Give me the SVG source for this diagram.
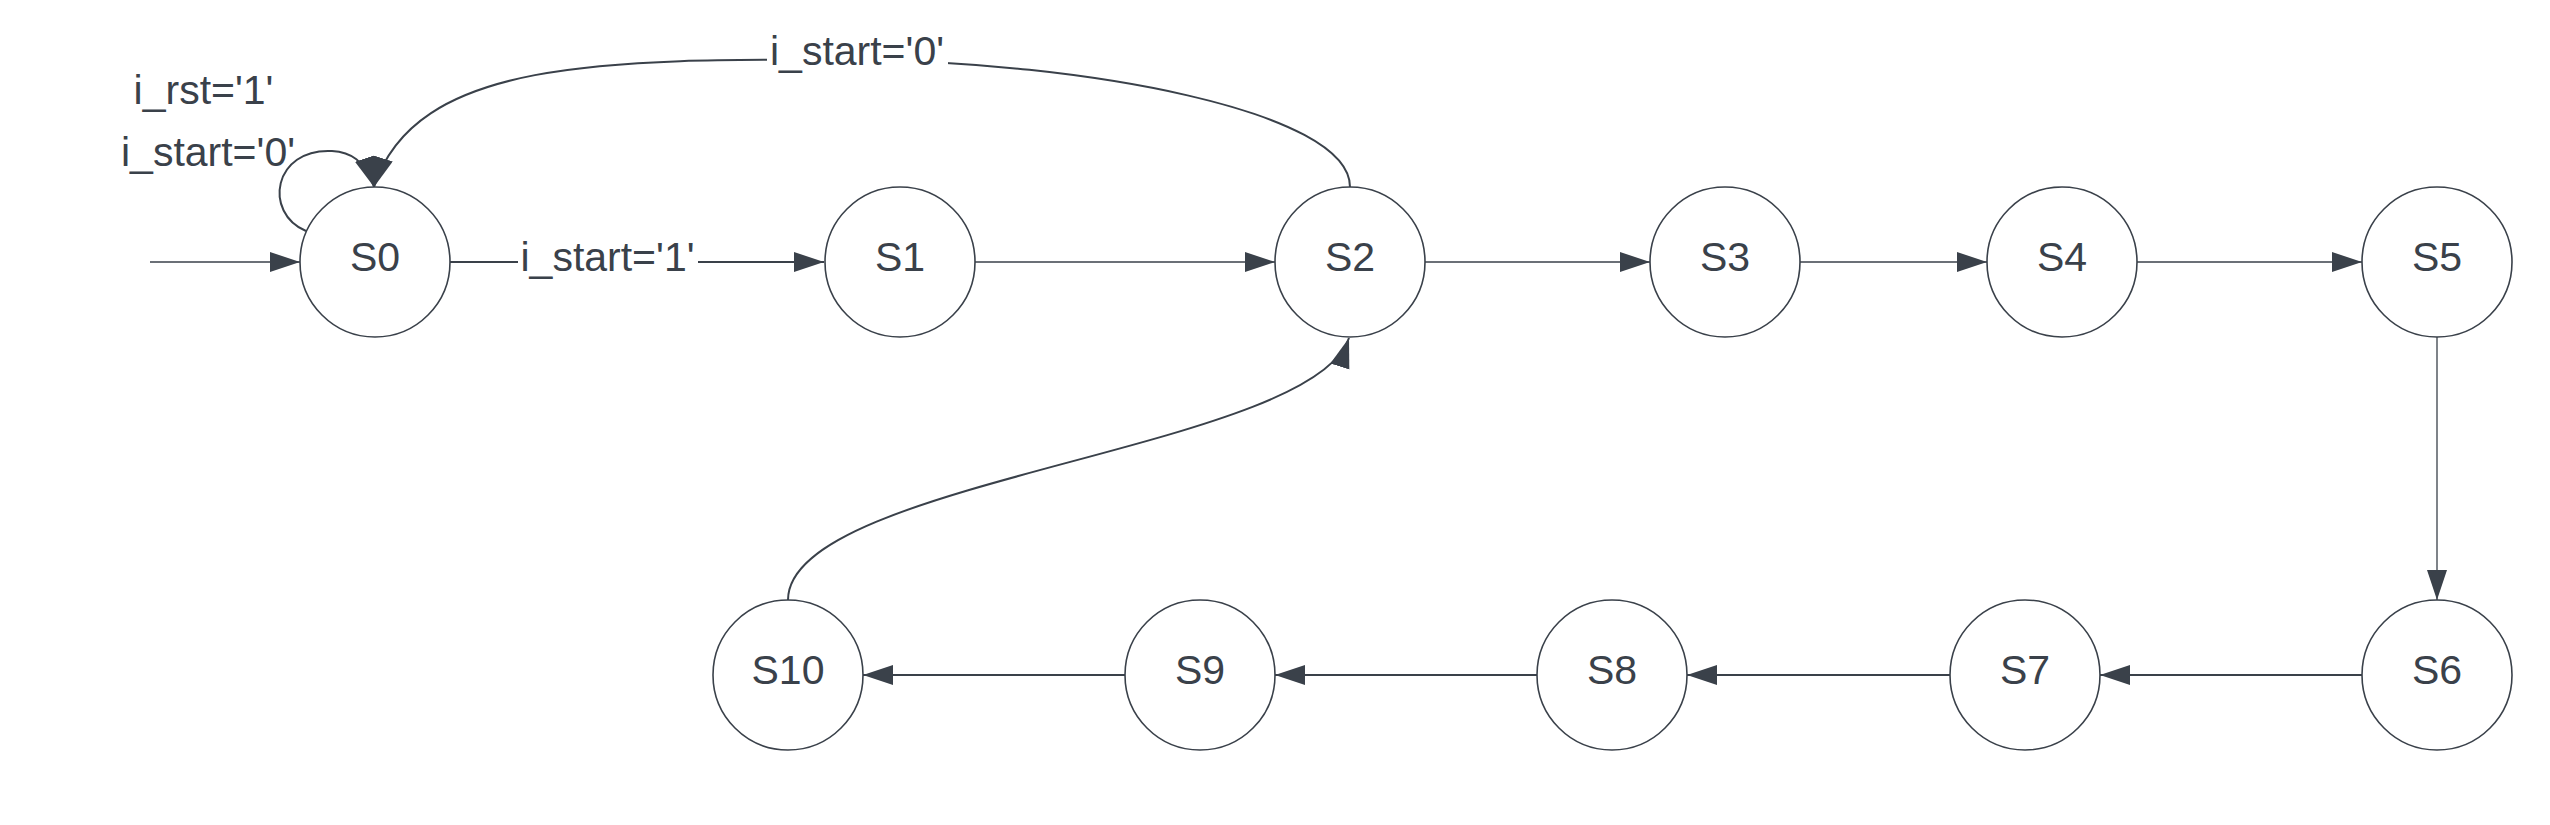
<svg xmlns="http://www.w3.org/2000/svg" width="2550" height="825" viewBox="0 0 2550 825">
  <style>
    .node circle { fill: #ffffff; stroke: #3a414a; stroke-width: 1.6; }
    text { font-family: "Liberation Sans", Arial, sans-serif; font-size: 41px; fill: #3a414a; text-anchor: middle; }
    .thin { fill: none; stroke: #3a414a; stroke-width: 1.3; marker-end: url(#arrow); }
    .thick { fill: none; stroke: #3a414a; stroke-width: 2; marker-end: url(#arrow); }
    .lblbg { fill: #ffffff; }
  </style>
  <defs>
    <marker id="arrow" markerUnits="userSpaceOnUse" markerWidth="31" markerHeight="21" refX="30" refY="10" orient="auto">
      <path d="M0,0 L30,10 L0,20 Z" fill="#3a414a"/>
    </marker>
  </defs>
  <rect width="2550" height="825" fill="#ffffff"/>

  <g id="connectors">
    <path class="thin" d="M150,262 L300,262"/>
    <path class="thick" d="M450,262 L824,262"/>
    <path class="thin" d="M975,262 L1275,262"/>
    <path class="thin" d="M1425,262 L1650,262"/>
    <path class="thin" d="M1800,262 L1987,262"/>
    <path class="thin" d="M2137,262 L2362,262"/>
    <path class="thin" d="M2437,337 L2437,600"/>
    <path class="thick" d="M2362,675 L2100,675"/>
    <path class="thick" d="M1950,675 L1687,675"/>
    <path class="thick" d="M1537,675 L1275,675"/>
    <path class="thick" d="M1125,675 L863,675"/>
    <path class="thick" d="M788,600 C788,480 1313,450 1349,338"/>
    <path class="thick" d="M1350,187 C1350,110 1080,62 860,60 C600,58 415,60 374,187"/>
    <path class="thick" d="M306,231 C263,213 273,148 332,151 C350,152 365,160 374,187"/>
  </g>

  <g id="labels">
    <rect class="lblbg" x="518" y="235" width="180" height="47"/>
    <text x="607.5" y="271">i_start='1'</text>
    <rect class="lblbg" x="767" y="29" width="181" height="47"/>
    <text x="857" y="65">i_start='0'</text>
    <text x="203.5" y="104">i_rst='1'</text>
    <text x="208" y="166">i_start='0'</text>
  </g>

  <g id="S0" class="node"><circle cx="375" cy="262" r="75"/><text x="375" y="271">S0</text></g>
  <g id="S1" class="node"><circle cx="900" cy="262" r="75"/><text x="900" y="271">S1</text></g>
  <g id="S2" class="node"><circle cx="1350" cy="262" r="75"/><text x="1350" y="271">S2</text></g>
  <g id="S3" class="node"><circle cx="1725" cy="262" r="75"/><text x="1725" y="271">S3</text></g>
  <g id="S4" class="node"><circle cx="2062" cy="262" r="75"/><text x="2062" y="271">S4</text></g>
  <g id="S5" class="node"><circle cx="2437" cy="262" r="75"/><text x="2437" y="271">S5</text></g>
  <g id="S6" class="node"><circle cx="2437" cy="675" r="75"/><text x="2437" y="684">S6</text></g>
  <g id="S7" class="node"><circle cx="2025" cy="675" r="75"/><text x="2025" y="684">S7</text></g>
  <g id="S8" class="node"><circle cx="1612" cy="675" r="75"/><text x="1612" y="684">S8</text></g>
  <g id="S9" class="node"><circle cx="1200" cy="675" r="75"/><text x="1200" y="684">S9</text></g>
  <g id="S10" class="node"><circle cx="788" cy="675" r="75"/><text x="788" y="684">S10</text></g>
</svg>
